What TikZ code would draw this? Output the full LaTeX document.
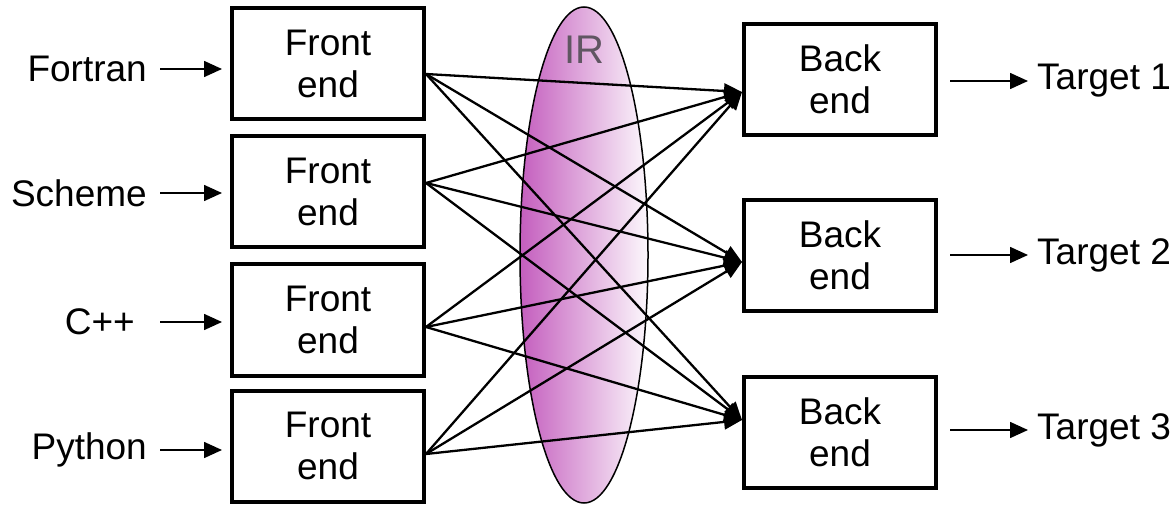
\documentclass[tikz,border=0pt]{standalone}
\usepackage{fontspec}
\setmainfont{Liberation Sans}
\usetikzlibrary{arrows.meta}
\definecolor{irmag}{RGB}{196,94,190}
\definecolor{irwhite}{RGB}{252,248,252}
\definecolor{irtext}{RGB}{96,86,98}
\tikzset{
  txt/.style={font=\fontsize{37}{42}\selectfont, inner sep=0pt},
  box/.style={draw, line width=4pt, minimum width=192pt, minimum height=111pt, align=center, font=\fontsize{37}{42}\selectfont, inner sep=0pt},
  inarr/.style={line width=1.6pt, -{Triangle[length=18pt,width=16pt]}},
  conn/.style={line width=2.3pt, -{Triangle[length=18pt,width=15pt]}}
}
\begin{document}
\begin{tikzpicture}[x=1pt,y=-1pt]
\useasboundingbox (0,0) rectangle (1173,505);
% IR ellipse
\path[left color=irmag, right color=irwhite, draw=black, line width=1.5pt] (584,255) ellipse [x radius=64, y radius=248];
\node[txt, text=irtext, font=\fontsize{40}{44}\selectfont] (ir) at (584,50) {IR};
% front ends
\node[box] (f1) at (328,63.5) {Front\\end};
\node[box] (f2) at (328,191.5) {Front\\end};
\node[box] (f3) at (328,320) {Front\\end};
\node[box] (f4) at (328,446) {Front\\end};
% back ends
\node[box] (b1) at (840,79.5) {Back\\end};
\node[box] (b2) at (840,255.5) {Back\\end};
\node[box] (b3) at (840,432) {Back\\end};
% inputs
\node[txt, anchor=east] (fortran) at (147,69) {Fortran};
\node[txt, anchor=east] (scheme) at (147,193) {Scheme};
\node[txt, anchor=east] (cpp) at (135,322) {C++};
\node[txt, anchor=east] (python) at (147,450) {Python};
\draw[inarr, shorten >=8pt] ([xshift=13pt]fortran.east) -- (fortran -| f1.west);
\draw[inarr, shorten >=8pt] ([xshift=13pt]scheme.east) -- (scheme -| f2.west);
\draw[inarr, shorten >=8pt] ([xshift=25pt]cpp.east) -- (cpp -| f3.west);
\draw[inarr, shorten >=8pt] ([xshift=13pt]python.east) -- (python -| f4.west);
% targets
\node[txt, anchor=west] (t1) at (1037,81) {Target 1};
\node[txt, anchor=west] (t2) at (1037,255) {Target 2};
\node[txt, anchor=west] (t3) at (1037,430) {Target 3};
\draw[inarr, shorten >=9pt] (t1 -| b1.east) ++(12,0) -- (t1.west);
\draw[inarr, shorten >=9pt] (t2 -| b2.east) ++(12,0) -- (t2.west);
\draw[inarr, shorten >=9pt] (t3 -| b3.east) ++(12,0) -- (t3.west);
% connectors
\foreach \f/\fy in {f1/-10.5, f2/8.5, f3/-7, f4/-8}{
  \foreach \b/\by in {b1/-12.5, b2/-6.5, b3/12}{
    \draw[conn] ([yshift=\fy pt]\f.east) -- ([yshift=\by pt]\b.west);
  }
}
\end{tikzpicture}
\end{document}
